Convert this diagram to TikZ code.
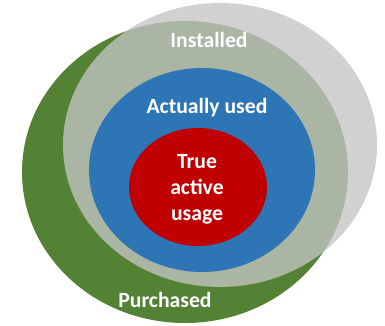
\documentclass[tikz,border=0pt]{standalone}
\usepackage{fontspec}
\setmainfont{Carlito}
\usepackage{xcolor}
\usepackage{tikz}
\usetikzlibrary{positioning}

\definecolor{purchgreen}{HTML}{548235}
\definecolor{instgray}{HTML}{C4C4C4}
\definecolor{usedblue}{HTML}{2E75B6}
\definecolor{truered}{HTML}{C00000}

\begin{document}
\begin{tikzpicture}[x=1pt, y=-1pt,
  lbl/.style={text=white, font=\bfseries\fontsize{21.7}{26}\selectfont, anchor=base, inner sep=0pt, align=center}]
\useasboundingbox (0,0) rectangle (385,325);
\fill[purchgreen] (185,172) ellipse [x radius=163, y radius=151];
\fill[instgray, opacity=0.78] (220,145) ellipse [x radius=157, y radius=142];
\fill[usedblue] (202,170) ellipse [x radius=113, y radius=102];
\fill[truered] (198,187) ellipse [x radius=69, y radius=59];
\node[lbl] (installed) at (209,47) {Installed};
\node[lbl] (used) at (207,113) {Actually used};
% base of a multi-line node sits on its last line
\node[lbl] (active) at (197,220) {True\\active\\usage};
\node[lbl] (purchased) at (165,307) {Purchased};
\end{tikzpicture}
\end{document}
